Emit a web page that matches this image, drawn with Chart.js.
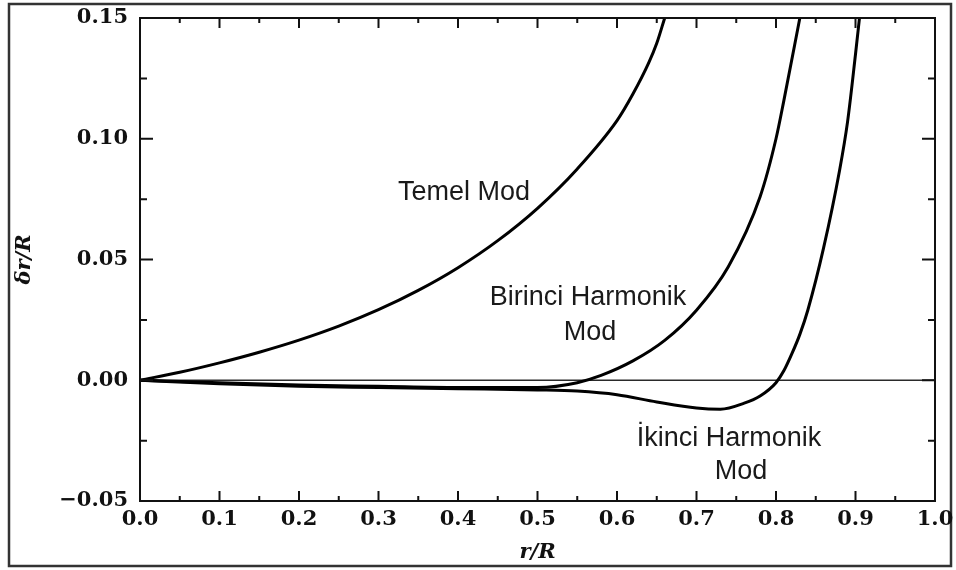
<!DOCTYPE html>
<html>
<head>
<meta charset="utf-8">
<script src="https://cdn.jsdelivr.net/npm/chart.js@4.4.1/dist/chart.umd.min.js"></script>
<style>
  html, body { margin: 0; padding: 0; background: #fff; }
  #wrap { width: 956px; height: 570px; }
</style>
</head>
<body>
<div id="wrap"><canvas id="modeChart" width="956" height="570"></canvas></div>
<script>
// radial displacement of the pulsation modes, r/R vs dr/R
const temelR = [0, 0.05, 0.1, 0.15, 0.2, 0.25, 0.3, 0.35, 0.4, 0.45, 0.5, 0.55, 0.6, 0.62, 0.64, 0.65, 0.66];
const temelY = [0, 0.0033, 0.0072, 0.0116, 0.0166, 0.0224, 0.0292, 0.0372, 0.0466, 0.0578, 0.0712, 0.0875, 0.1075, 0.1185, 0.1315, 0.1395, 0.150];

const birinciR = [0, 0.1, 0.2, 0.3, 0.4, 0.5, 0.55, 0.58, 0.62, 0.66, 0.70, 0.74, 0.78, 0.80, 0.81, 0.83];
const birinciY = [0, -0.001, -0.002, -0.0025, -0.003, -0.003, -0.001, 0.002, 0.008, 0.0165, 0.029, 0.047, 0.076, 0.100, 0.116, 0.150];

const ikinciR = [0, 0.1, 0.2, 0.3, 0.4, 0.5, 0.55, 0.6, 0.65, 0.7, 0.73, 0.76, 0.78, 0.80, 0.81, 0.82, 0.83, 0.84, 0.86, 0.88, 0.89, 0.90, 0.905];
const ikinciY = [0, -0.0015, -0.0025, -0.003, -0.0035, -0.004, -0.0045, -0.006, -0.009, -0.0115, -0.012, -0.0095, -0.0065, -0.001, 0.004, 0.011, 0.019, 0.029, 0.055, 0.087, 0.107, 0.135, 0.150];

// curve captions, placed in data coordinates
const captions = [
  { text: "Temel Mod", r: 0.4075, y: 0.0778 },
  { text: "Birinci Harmonik", r: 0.5635, y: 0.0344 },
  { text: "Mod", r: 0.566, y: 0.0199 },
  { text: "\u0130kinci Harmonik", r: 0.741, y: -0.024 },
  { text: "Mod", r: 0.756, y: -0.038 }
];

const toPoints = (xs, ys) => xs.map((x, i) => ({ x: x, y: ys[i] }));

const tickFont = { family: "DejaVu Serif", size: 21, weight: "bold" };
const titleFont = { family: "DejaVu Serif", size: 21, weight: "bold", style: "italic" };

const isMultiple = (v, step) => Math.abs(v / step - Math.round(v / step)) < 1e-6;

// zero line, inward tick marks, frames and captions
const decorations = {
  id: "decorations",
  beforeDraw(chart) {
    const ctx = chart.ctx;
    ctx.save();
    ctx.strokeStyle = "#333";
    ctx.lineWidth = 2.5;
    ctx.strokeRect(9, 4, 942, 562);
    ctx.restore();
  },
  beforeDatasetsDraw(chart) {
    const { ctx, chartArea: a, scales: { y } } = chart;
    const y0 = y.getPixelForValue(0);
    ctx.save();
    ctx.strokeStyle = "#2a2a2a";
    ctx.lineWidth = 1.6;
    ctx.beginPath();
    ctx.moveTo(a.left, y0);
    ctx.lineTo(a.right, y0);
    ctx.stroke();
    ctx.restore();
  },
  afterDatasetsDraw(chart) {
    const { ctx, chartArea: a, scales: { x, y } } = chart;
    ctx.save();
    ctx.strokeStyle = "#111";
    ctx.lineWidth = 2;
    ctx.beginPath();
    y.ticks.forEach(t => {
      const py = y.getPixelForValue(t.value);
      const len = isMultiple(t.value, 0.05) ? 13 : 7;
      ctx.moveTo(a.left, py); ctx.lineTo(a.left + len, py);
      ctx.moveTo(a.right, py); ctx.lineTo(a.right - len, py);
    });
    x.ticks.forEach(t => {
      const px = x.getPixelForValue(t.value);
      const len = isMultiple(t.value, 0.1) ? 10 : 5;
      ctx.moveTo(px, a.bottom); ctx.lineTo(px, a.bottom - len);
      ctx.moveTo(px, a.top); ctx.lineTo(px, a.top + len);
    });
    ctx.stroke();
    ctx.lineWidth = 2;
    ctx.strokeRect(a.left, a.top, a.right - a.left, a.bottom - a.top);

    ctx.fillStyle = "#1a1a1a";
    ctx.font = "27px 'Liberation Sans', Arial, sans-serif";
    ctx.textAlign = "center";
    ctx.textBaseline = "middle";
    captions.forEach(c => {
      ctx.fillText(c.text, x.getPixelForValue(c.r), y.getPixelForValue(c.y));
    });
    ctx.restore();
  }
};

const lineStyle = {
  borderColor: "#000",
  borderWidth: 3,
  pointRadius: 0,
  fill: false,
  cubicInterpolationMode: "monotone"
};

new Chart(document.getElementById("modeChart").getContext("2d"), {
  type: "line",
  data: {
    datasets: [
      { label: "Temel Mod", data: toPoints(temelR, temelY), ...lineStyle },
      { label: "Birinci Harmonik Mod", data: toPoints(birinciR, birinciY), ...lineStyle },
      { label: "\u0130kinci Harmonik Mod", data: toPoints(ikinciR, ikinciY), ...lineStyle }
    ]
  },
  options: {
    responsive: false,
    animation: false,
    layout: { padding: { top: 18, right: 21, left: 0, bottom: 0 } },
    plugins: { legend: { display: false }, tooltip: { enabled: false } },
    scales: {
      x: {
        type: "linear",
        min: 0,
        max: 1,
        grid: { display: false, drawTicks: false, tickLength: 0 },
        border: { display: false },
        ticks: {
          stepSize: 0.05,
          autoSkip: false,
          maxRotation: 0,
          padding: 6,
          color: "#111",
          font: tickFont,
          callback: v => (isMultiple(v, 0.1) ? v.toFixed(1) : "")
        },
        title: { display: true, text: "r/R", color: "#111", font: titleFont, padding: { top: 0, bottom: 5 } },
        afterFit: s => { s.height = 69; s.paddingRight = 0; s.paddingLeft = 0; }
      },
      y: {
        min: -0.05,
        max: 0.15,
        grid: { display: false, drawTicks: false, tickLength: 0 },
        border: { display: false },
        ticks: {
          stepSize: 0.025,
          autoSkip: false,
          padding: 12,
          color: "#111",
          font: tickFont,
          callback: v => {
            if (!isMultiple(v, 0.05)) return "";
            const s = Math.abs(v).toFixed(2);
            return v < -1e-9 ? "\u2212" + s : s;
          }
        },
        title: { display: true, text: "\u03b4r/R", color: "#111", font: titleFont, padding: { top: 12, bottom: 0 } },
        afterFit: s => { s.width = 140; s.paddingTop = 0; s.paddingBottom = 0; }
      }
    }
  },
  plugins: [decorations]
});
</script>
</body>
</html>
